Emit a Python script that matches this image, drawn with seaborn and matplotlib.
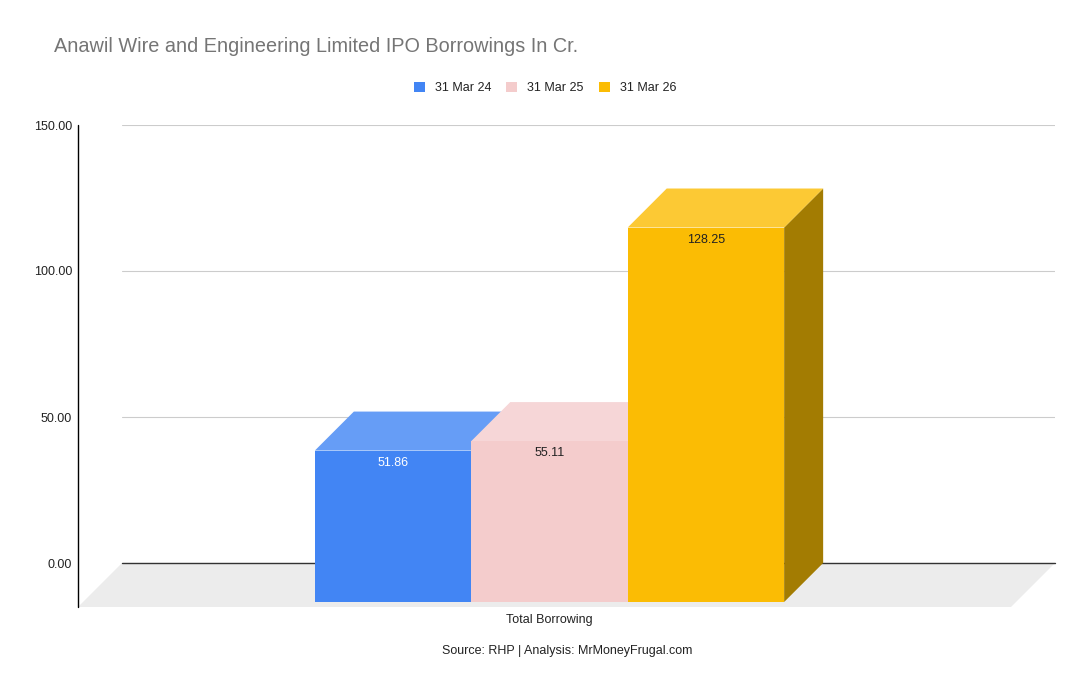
import numpy as np
import pandas as pd
import seaborn as sns
import matplotlib.pyplot as plt
from matplotlib.patches import Polygon
from matplotlib.transforms import offset_copy

# chart data
category = ["Total Borrowing"]
periods = ["31 Mar 24", "31 Mar 25", "31 Mar 26"]
borrowings = [51.86, 55.11, 128.25]
yticks = [0, 50, 100, 150]

# colours (front, top, side, value label)
colors = ["#4285f4", "#f4cccc", "#fbbc04"]
top_colors = ["#669df6", "#f6d6d7", "#fcc934"]
side_colors = ["#2d5cab", "#a98e8e", "#a37c02"]
label_colors = ["#ffffff", "#222222", "#222222"]

df = pd.DataFrame({"Item": category * len(periods), "Period": periods, "Crore": borrowings})

sns.set_theme(style="white")
plt.rcParams["font.family"] = ["Liberation Sans", "DejaVu Sans"]

W, H = 1090, 694
fig = plt.figure(figsize=(W / 100, H / 100), dpi=100)
# axes = the back wall of the 3D box
ax = fig.add_axes([122 / W, (H - 563) / H, 933 / W, 438 / H])

sns.barplot(data=df, x="Item", y="Crore", hue="Period",
            palette=dict(zip(periods, colors)), saturation=1,
            width=0.503, gap=0, linewidth=0, ax=ax)

ax.set_xlim(-0.5, 0.5)
ax.set_ylim(0, 150)

# depth of the bars and of the floor, in pixels -> data units
px_x = 933 / 1.0
px_y = 438 / 150
dx, dy = 39 / px_x, 39 / px_y
fx, fy = 44 / px_x, 44 / px_y

front = offset_copy(ax.transData, fig=fig, x=-39, y=-39, units="dots")

# floor and axis line
ax.add_patch(Polygon([(-0.5, 0), (0.5, 0), (0.5 - fx, -fy), (-0.5 - fx, -fy)],
                     closed=True, fc="#ececec", ec="none", clip_on=False, zorder=0.4))
ax.axhline(0, color="#333333", lw=1, zorder=1.5, clip_on=False)
ax.plot([-0.5 - fx, -0.5 - fx], [-fy, 150], color="black", lw=1, clip_on=False, zorder=1.5)

for i, cont in enumerate(ax.containers):
    bar = cont.patches[0]
    x0 = bar.get_x()
    x1 = x0 + bar.get_width()
    h = bar.get_height()
    side = Polygon([(x1 - dx, -dy), (x1, 0), (x1, h), (x1 - dx, h - dy)],
                   closed=True, fc=side_colors[i], ec="none", clip_on=False, zorder=2 + i)
    top = Polygon([(x0 - dx, h - dy), (x1 - dx, h - dy), (x1, h), (x0, h)],
                  closed=True, fc=top_colors[i], ec="none", clip_on=False, zorder=2 + i)
    ax.add_patch(side)
    ax.add_patch(top)
    bar.set_transform(front)
    bar.set_clip_on(False)
    bar.set_zorder(2.5 + i)
    ax.text((x0 + x1) / 2 - dx, h - dy - 12 / px_y, f"{h:.2f}", ha="center", va="center",
            fontsize=9, color=label_colors[i], zorder=10)

ax.text(0 - dx, -57 / px_y, category[0], ha="center", va="center", fontsize=9, color="#222222")

ax.set_yticks(yticks, labels=[f"{v:.2f}" for v in yticks])
ax.set_xticks([])
ax.tick_params(axis="y", length=0, pad=36, labelsize=9, labelcolor="#222222")
ax.set_xlabel("")
ax.set_ylabel("")
ax.yaxis.grid(True, color="#cccccc", lw=0.8)
ax.set_axisbelow(True)
for s in ax.spines.values():
    s.set_visible(False)

sns.move_legend(ax, "center", bbox_to_anchor=(545 / W, 1 - 88 / H), bbox_transform=fig.transFigure,
                ncol=3, frameon=False, title=None, fontsize=9, handlelength=0.88, handleheight=0.88,
                handletextpad=0.8, columnspacing=1.2)
for t in ax.get_legend().get_texts():
    t.set_color("#222222")

fig.text(54 / W, 1 - 47 / H, "Anawil Wire and Engineering Limited IPO Borrowings In Cr.",
         ha="left", va="center", fontsize=14.3, color="#757575")
fig.text(567 / W, 1 - 651 / H, "Source: RHP | Analysis: MrMoneyFrugal.com",
         ha="center", va="center", fontsize=9, color="#222222")

fig.savefig("out.png", dpi=100)
